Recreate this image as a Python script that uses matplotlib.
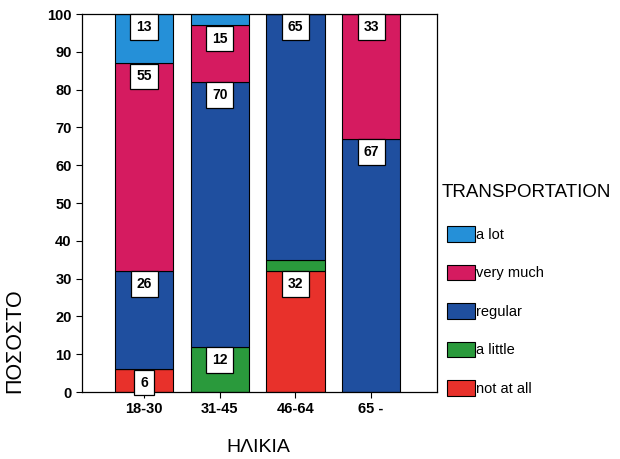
import matplotlib
matplotlib.use("Agg")
import matplotlib.pyplot as plt
from matplotlib.patches import Patch
import numpy as np

plt.rcParams['font.family'] = ['Liberation Sans', 'DejaVu Sans']

age_groups = ["18-30", "31-45", "46-64", "65 -"]
series_names = ["not at all", "a little", "regular", "very much", "a lot"]
not_at_all = [6, 0, 32, 0]
a_little = [0, 12, 3, 0]
regular = [26, 70, 65, 67]
very_much = [55, 15, 0, 33]
a_lot = [13, 3, 0, 0]
colors = ["#e8312b", "#2a9a3c", "#1f4f9f", "#d51b60", "#2590d8"]
yticks = [0, 10, 20, 30, 40, 50, 60, 70, 80, 90, 100]

series = [not_at_all, a_little, regular, very_much, a_lot]

fig = plt.figure(figsize=(6.2, 4.59), dpi=100)
ax = fig.add_axes([82/620, 1-392/459, (437-82)/620, (392-14)/459])

x = np.arange(len(age_groups))
bottom = np.zeros(len(age_groups))
for name, vals, c in zip(series_names, series, colors):
    vals = np.array(vals, dtype=float)
    ax.bar(x, vals, 0.77, bottom=bottom, color=c, edgecolor="black", linewidth=0.8, label=name)
    for xi, v, b in zip(x, vals, bottom):
        if v >= 5:
            ax.annotate(f"{int(v)}", xy=(xi, b + v), xytext=(0, -9.5), textcoords="offset points",
                        ha="center", va="center", fontsize=10, fontweight="bold",
                        bbox=dict(boxstyle="square,pad=0.42", fc="white", ec="black", lw=0.9))
    bottom += vals

ax.set_xlim(-0.82, 3.87)
ax.set_ylim(0, 100)
ax.set_yticks(yticks)
ax.set_xticks(x)
ax.set_xticklabels(age_groups)
ax.tick_params(axis="both", labelsize=10.5, length=4, width=0.8)
for lab in ax.get_xticklabels() + ax.get_yticklabels():
    lab.set_fontweight("bold")
for s in ax.spines.values():
    s.set_linewidth(0.9)

fig.text(258/620, 1-448/459, "ΗΛΙΚΙΑ", ha="center", va="center", fontsize=14)
fig.text(15/620, 1-341/459, "ΠΟΣΟΣΤΟ", ha="center", va="center", rotation=90, fontsize=15.5)

fig.text(442/620, 1-192/459, "TRANSPORTATION", ha="left", va="center", fontsize=13.5)
handles = [Patch(facecolor=c, edgecolor="black", linewidth=0.8) for c in colors][::-1]
labels = series_names[::-1]
fig.legend(handles, labels, loc="upper left", bbox_to_anchor=(447/620, 1-226/459),
           frameon=False, fontsize=10.5, handlelength=1.9, handleheight=1.3,
           handletextpad=0.1, labelspacing=1.55, borderaxespad=0, borderpad=0)

fig.savefig("out.png", dpi=100)
